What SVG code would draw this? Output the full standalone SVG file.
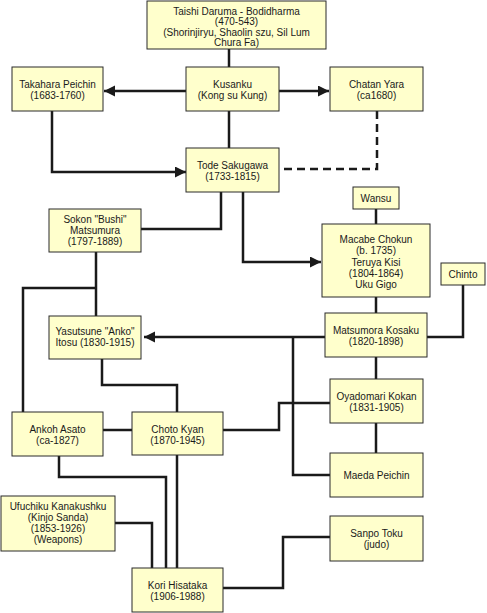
<svg xmlns="http://www.w3.org/2000/svg" width="487" height="613" viewBox="0 0 487 613">
<style>
.box{fill:#ffffcc;stroke:#2a2a2a;stroke-width:1}
text{font-family:"Liberation Sans",Arial,sans-serif;font-size:10px;fill:#1a1a1a;text-anchor:middle}
.c{fill:none;stroke:#1a1a1a;stroke-width:2.5}
.d{stroke-dasharray:8 5}
</style>
<defs>
<marker id="ah" markerUnits="userSpaceOnUse" markerWidth="12" markerHeight="12" refX="11" refY="5.5" orient="auto">
<path d="M0,0 L11,5.5 L0,11 z" fill="#1a1a1a"/>
</marker>
</defs>
<rect width="487" height="613" fill="#ffffff"/>
<g id="connectors">
<path class="c" d="M229,49 V67"/>
<path class="c" d="M186,91 H104" marker-end="url(#ah)"/>
<path class="c" d="M279,91 H329" marker-end="url(#ah)"/>
<path class="c" d="M229,111 V148"/>
<path class="c" d="M52,111 V172 H186" marker-end="url(#ah)"/>
<path class="c d" d="M377,111 V169 H283"/>
<path class="c" d="M221,192 V229 H141"/>
<path class="c" d="M243,192 V262 H321" marker-end="url(#ah)"/>
<path class="c" d="M376,209 V224"/>
<path class="c" d="M376,297 V313"/>
<path class="c" d="M463,285 V337 H427"/>
<path class="c" d="M325,337 H144" marker-end="url(#ah)"/>
<path class="c" d="M293,337 V475 H330"/>
<path class="c" d="M96,252 V316"/>
<path class="c" d="M96,288 H23 V412"/>
<path class="c" d="M102,359 V385 H177 V412"/>
<path class="c" d="M223,430 H279 V403 H330"/>
<path class="c" d="M376,357 V379"/>
<path class="c" d="M103,430 H132"/>
<path class="c" d="M376,423 V453"/>
<path class="c" d="M59,456 V477 H166 V568"/>
<path class="c" d="M177,455 V568"/>
<path class="c" d="M115,523 H152 V568"/>
<path class="c" d="M223,588 H283 V537 H330"/>
</g>
<g id="taishi"><rect class="box" x="147" y="1" width="179" height="48"/>
<text x="236.5" y="14.5">Taishi Daruma - Bodidharma</text><text x="236.5" y="25">(470-543)</text><text x="236.5" y="35.5">(Shorinjiryu, Shaolin szu, Sil Lum</text><text x="236.5" y="46">Chura Fa)</text></g>
<g id="takahara"><rect class="box" x="12" y="67" width="91" height="44"/>
<text x="57.5" y="88">Takahara Peichin</text><text x="57.5" y="99">(1683-1760)</text></g>
<g id="kusanku"><rect class="box" x="186" y="67" width="93" height="44"/>
<text x="232.5" y="88">Kusanku</text><text x="232.5" y="99">(Kong su Kung)</text></g>
<g id="chatan"><rect class="box" x="330" y="67" width="93" height="44"/>
<text x="376.5" y="88">Chatan Yara</text><text x="376.5" y="99">(ca1680)</text></g>
<g id="tode"><rect class="box" x="186" y="148" width="93" height="44"/>
<text x="232.5" y="169">Tode Sakugawa</text><text x="232.5" y="180">(1733-1815)</text></g>
<g id="wansu"><rect class="box" x="353" y="187" width="46" height="22"/>
<text x="376" y="202">Wansu</text></g>
<g id="sokon"><rect class="box" x="49" y="209" width="92" height="43"/>
<text x="95" y="223">Sokon "Bushi"</text><text x="95" y="234">Matsumura</text><text x="95" y="245">(1797-1889)</text></g>
<g id="macabe"><rect class="box" x="322" y="224" width="108" height="73"/>
<text x="376" y="243">Macabe Chokun</text><text x="376" y="254">(b. 1735)</text><text x="376" y="265.5">Teruya Kisi</text><text x="376" y="277">(1804-1864)</text><text x="376" y="288">Uku Gigo</text></g>
<g id="chinto"><rect class="box" x="441" y="263" width="44" height="22"/>
<text x="463" y="278">Chinto</text></g>
<g id="matsumora"><rect class="box" x="325" y="313" width="102" height="44"/>
<text x="376" y="334">Matsumora Kosaku</text><text x="376" y="345">(1820-1898)</text></g>
<g id="yasutsune"><rect class="box" x="49" y="316" width="92" height="43"/>
<text x="95" y="335">Yasutsune "Anko"</text><text x="95" y="346">Itosu (1830-1915)</text></g>
<g id="oyadomari"><rect class="box" x="330" y="379" width="93" height="44"/>
<text x="376.5" y="400">Oyadomari Kokan</text><text x="376.5" y="411">(1831-1905)</text></g>
<g id="ankoh"><rect class="box" x="12" y="412" width="91" height="44"/>
<text x="57.5" y="433">Ankoh Asato</text><text x="57.5" y="444">(ca-1827)</text></g>
<g id="choto"><rect class="box" x="132" y="412" width="91" height="43"/>
<text x="177.5" y="432.5">Choto Kyan</text><text x="177.5" y="443.5">(1870-1945)</text></g>
<g id="maeda"><rect class="box" x="330" y="453" width="93" height="44"/>
<text x="376.5" y="478.5">Maeda Peichin</text></g>
<g id="ufuchiku"><rect class="box" x="1" y="496" width="114" height="55"/>
<text x="58" y="510">Ufuchiku Kanakushku</text><text x="58" y="521">(Kinjo Sanda)</text><text x="58" y="532">(1853-1926)</text><text x="58" y="543">(Weapons)</text></g>
<g id="sanpo"><rect class="box" x="330" y="516" width="93" height="45"/>
<text x="376.5" y="536.5">Sanpo Toku</text><text x="376.5" y="547.5">(judo)</text></g>
<g id="kori"><rect class="box" x="132" y="568" width="91" height="44"/>
<text x="177.5" y="588.5">Kori Hisataka</text><text x="177.5" y="599.5">(1906-1988)</text></g>
</svg>
